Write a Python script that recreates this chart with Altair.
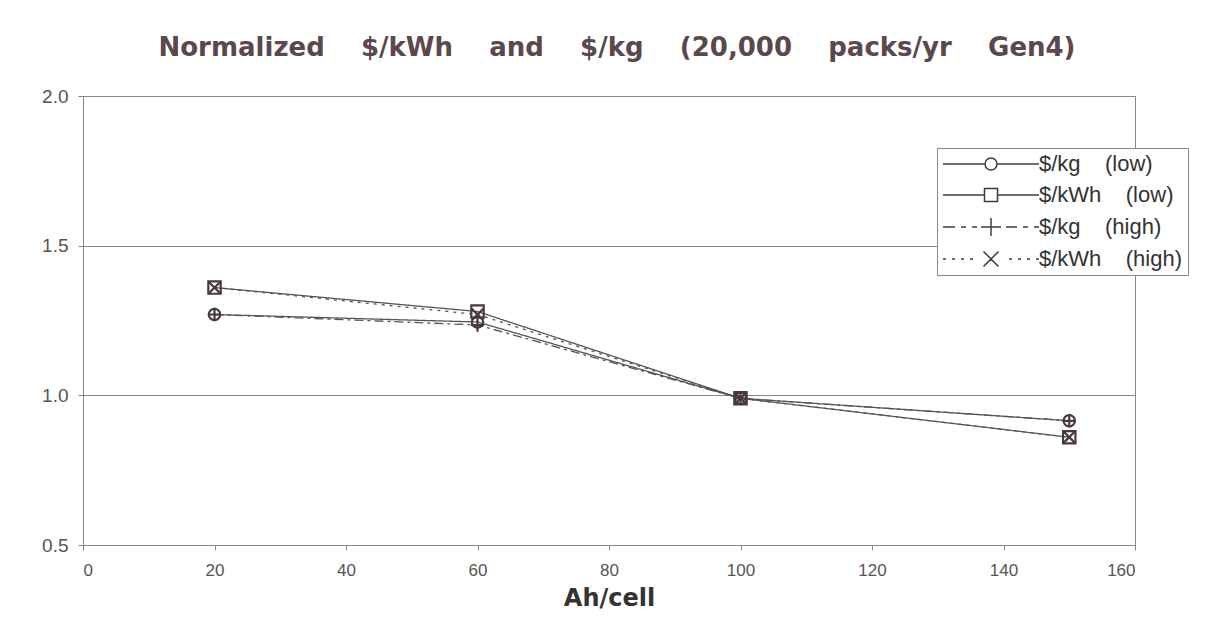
import altair as alt
import pandas as pd

NB = "\u00a0"
ah = [20, 60, 100, 150]
series_names = [f"$/kg{NB*4}(low)", f"$/kWh{NB*4}(low)", f"$/kg{NB*4}(high)", f"$/kWh{NB*4}(high)"]
kg_low = [1.27, 1.245, 0.99, 0.915]
kwh_low = [1.36, 1.28, 0.99, 0.86]
kg_high = [1.27, 1.235, 0.99, 0.915]
kwh_high = [1.36, 1.27, 0.99, 0.86]
x_ticks = [0, 20, 40, 60, 80, 100, 120, 140, 160]
y_ticks = [0.5, 1.0, 1.5, 2.0]
title_text = (NB * 4).join(["Normalized", "$/kWh", "and", "$/kg", "(20,000", "packs/yr", "Gen4)"])

rows = []
for name, vals in zip(series_names, [kg_low, kwh_low, kg_high, kwh_high]):
    for a, v in zip(ah, vals):
        rows.append({"series": name, "ah": a, "val": v})
df = pd.DataFrame(rows)

MARK = "#4a383c"
LINE = "#555555"

marker_shapes = [
    "circle",
    "square",
    "M-1,0H1M0,-1V1",
    "M-0.8,-0.8L0.8,0.8M-0.8,0.8L0.8,-0.8",
]
# legend symbols: line + marker, unit = 10px (symbolSize 400)
legend_shapes = [
    "M-4.8,0H-0.6M0.6,0H4.8M-0.6,0A0.6,0.6 0 1,1 0.6,0A0.6,0.6 0 1,1 -0.6,0",
    "M-4.8,0H-0.65M0.65,0H4.8M-0.65,-0.65H0.65V0.65H-0.65Z",
    "M-4.8,0H-3.6M-3.0,0H-2.5M-1.9,0H-1.4M-1.0,0H1.0M0,-0.9V0.9M1.5,0H2.6M3.2,0H3.7M4.3,0H4.8",
    "M-4.8,0H-4.5M-3.9,0H-3.6M-3.0,0H-2.7M-2.1,0H-1.8M-0.75,-0.75L0.75,0.75M-0.75,0.75L0.75,-0.75M1.8,0H2.1M2.7,0H3.0M3.6,0H3.9M4.5,0H4.8",
]

x_enc = alt.X("ah:Q", scale=alt.Scale(domain=[0, 160], nice=False),
              axis=alt.Axis(values=x_ticks, title="Ah/cell", grid=False, labelFontSize=17))
y_enc = alt.Y("val:Q", scale=alt.Scale(domain=[0.5, 2.0], nice=False, zero=False),
              axis=alt.Axis(values=y_ticks, format=".1f", title=None, grid=True,
                            labelFontSize=19))

lines = alt.Chart(df).mark_line(color=LINE, strokeWidth=1.3).encode(
    x=x_enc, y=y_enc,
    detail="series:N",
    strokeDash=alt.StrokeDash("series:N", sort=series_names,
                              scale=alt.Scale(domain=series_names,
                                              range=[[1, 0], [1, 0], [9, 4, 3, 4], [3, 5]]),
                              legend=None),
)

points = alt.Chart(df).mark_point(filled=False, color=MARK, strokeWidth=2.2, opacity=1).encode(
    x=x_enc, y=y_enc,
    shape=alt.Shape("series:N", scale=alt.Scale(domain=series_names, range=marker_shapes), legend=None),
    size=alt.Size("series:N", scale=alt.Scale(domain=series_names, range=[130, 200, 110, 110]), legend=None),
)

legend_layer = alt.Chart(df).mark_point(filled=False, color=MARK, opacity=0).encode(
    x=x_enc, y=y_enc,
    shape=alt.Shape("series:N", sort=series_names,
                    scale=alt.Scale(domain=series_names, range=legend_shapes),
                    legend=alt.Legend(title=None, orient="none", legendX=854, legendY=52,
                                      symbolSize=400, symbolStrokeWidth=1.5, symbolOffset=38,
                                      symbolStrokeColor=MARK, symbolFillColor="transparent",
                                      labelFont="Liberation Sans", labelFontSize=22,
                                      labelColor="#333333", labelOffset=37,
                                      rowPadding=9, padding=5,
                                      strokeColor="#888888", fillColor="white")),
)

chart = alt.layer(lines, points, legend_layer).resolve_scale(
    shape="independent", size="independent", strokeDash="independent"
).properties(
    width=1052, height=449,
    title=alt.TitleParams(title_text, font="DejaVu Sans", fontSize=26, fontWeight="bold",
                          color="#5a484d", anchor="middle", frame="group", offset=26, dx=8),
    autosize=alt.AutoSizeParams(type="none"),
    padding={"left": 75, "top": 88, "right": 74, "bottom": 72},
).configure_view(
    stroke="#888888", strokeWidth=1
).configure_axis(
    labelFont="Liberation Sans", labelColor="#555555",
    domainColor="#888888", tickColor="#888888", gridColor="#888888", gridWidth=1,
    tickSize=5, titleFont="DejaVu Sans", titleFontSize=24, titleFontWeight="bold",
    titleColor="#333333",
).configure_axisX(
    labelPadding=12, titlePadding=8
).configure_axisY(
    labelPadding=10
)

chart.save("out.html", embed_options={"renderer": "svg", "actions": False})
